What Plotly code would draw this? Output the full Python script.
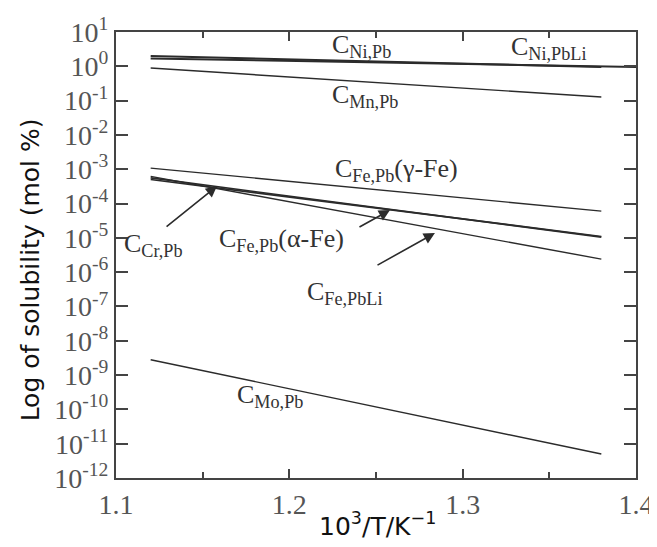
import plotly.graph_objects as go

x_ends = [1.12, 1.38]
x_ni_pbli = [1.12, 1.40]

ni_pb = [2.0, 0.95]
ni_pbli = [1.7, 0.95]
mn_pb = [0.89, 0.127]
fe_pb_gamma = [1.08e-3, 6.0e-5]
cr_pb = [5.6e-4, 1.05e-5]
fe_pb_alpha = [5.0e-4, 1.1e-5]
fe_pbli = [6.2e-4, 2.4e-6]
mo_pb = [2.8e-9, 5.0e-12]

y_tick_exp = list(range(1, -13, -1))
x_tick_vals = [1.1, 1.2, 1.3, 1.4]
x_tick_text = ["1.1", "1.2", "1.3", "1.4"]

LINE = "#2b2b2b"
SERIF = "Liberation Serif"
SANS = "DejaVu Sans"

fig = go.Figure()
series = [
    (x_ends, ni_pb, 2.0),
    (x_ni_pbli, ni_pbli, 2.0),
    (x_ends, mn_pb, 1.4),
    (x_ends, fe_pb_gamma, 1.4),
    (x_ends, cr_pb, 1.6),
    (x_ends, fe_pb_alpha, 1.6),
    (x_ends, fe_pbli, 1.4),
    (x_ends, mo_pb, 1.4),
]
for xs, ys, w in series:
    fig.add_trace(go.Scatter(x=xs, y=ys, mode="lines",
                             line=dict(color=LINE, width=w), showlegend=False))

labels = [
    (1.2234, 0.58, "C<sub>Ni,Pb</sub>"),
    (1.3267, 0.52, "C<sub>Ni,PbLi</sub>"),
    (1.2234, -0.87, "C<sub>Mn,Pb</sub>"),
    (1.225, -3.03, "C<sub>Fe,Pb</sub>(γ-Fe)"),
    (1.1033, -5.22, "C<sub>Cr,Pb</sub>"),
    (1.158, -5.07, "C<sub>Fe,Pb</sub>(α-Fe)"),
    (1.209, -6.62, "C<sub>Fe,PbLi</sub>"),
    (1.1685, -9.60, "C<sub>Mo,Pb</sub>"),
]
for lx, ly, t in labels:
    fig.add_annotation(x=lx, y=ly, text=t, showarrow=False, xanchor="left",
                       yanchor="middle",
                       font=dict(family=SERIF, size=26, color="#333333"))

arrows = [
    (1.1583, -3.49, 1.1283, -4.71),
    (1.2581, -4.19, 1.2396, -4.71),
    (1.284, -4.86, 1.25, -5.82),
]
for tx, ty, sx, sy in arrows:
    fig.add_annotation(x=tx, y=ty, ax=sx, ay=sy, axref="x", ayref="y",
                       xref="x", yref="y", text="", showarrow=True,
                       arrowhead=2, arrowsize=1.4, arrowwidth=1.6,
                       arrowcolor=LINE)

# axis titles as annotations for precise placement
fig.add_annotation(x=-0.165, y=0.466, xref="paper", yref="paper",
                   text="Log of solubility (mol %)", textangle=-90,
                   showarrow=False, xanchor="center", yanchor="middle",
                   font=dict(family=SANS, size=25, color="#111"))
fig.add_annotation(x=0.502, y=-0.105, xref="paper", yref="paper",
                   text="10<sup>3</sup>/T/K<sup>−1</sup>",
                   showarrow=False, xanchor="center", yanchor="middle",
                   font=dict(family=SANS, size=25, color="#111"))

fig.update_xaxes(
    range=[1.1, 1.4], tickvals=x_tick_vals, ticktext=x_tick_text,
    ticks="inside", ticklen=9, tickwidth=1.5, tickcolor="#444",
    showline=True, linecolor="#444", linewidth=2, mirror="ticks",
    showgrid=False, zeroline=False, automargin=False,
    minor=dict(tickvals=[1.15, 1.25, 1.35], ticks="inside", ticklen=6,
               tickwidth=1.5, tickcolor="#444", showgrid=False),
    tickfont=dict(family=SERIF, size=28, color="#555555"),
)
fig.update_yaxes(
    type="log", range=[-12, 1],
    tickvals=[10.0 ** e for e in y_tick_exp],
    ticktext=["10<sup>%d</sup>" % e for e in y_tick_exp],
    ticks="inside", ticklen=12, tickwidth=1.5, tickcolor="#444",
    showline=True, linecolor="#444", linewidth=2, mirror="ticks",
    showgrid=False, zeroline=False, automargin=False,
    tickfont=dict(family=SERIF, size=28, color="#555555"),
)
fig.update_layout(
    width=649, height=539,
    margin=dict(l=108, r=21, t=24, b=69, autoexpand=False),
    paper_bgcolor="white", plot_bgcolor="white",
)
fig.write_html("out.html")
